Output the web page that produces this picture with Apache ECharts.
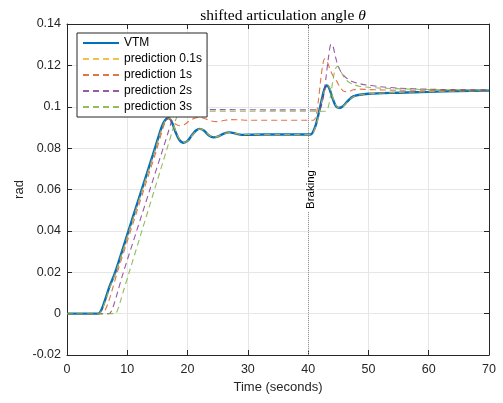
<!DOCTYPE html>
<html>
<head>
<meta charset="utf-8">
<script src="https://cdn.jsdelivr.net/npm/echarts@6/dist/echarts.min.js"></script>
<style>
  html, body { margin: 0; padding: 0; background: #fff; }
  #chart { width: 503px; height: 403px; }
</style>
</head>
<body>
<div id="chart"></div>
<script>
// Articulation angle (rad) over time (s): measured VTM response and predictions
const seriesNames = ['VTM', 'prediction 0.1s', 'prediction 1s', 'prediction 2s', 'prediction 3s'];
const xTicks = [0, 10, 20, 30, 40, 50, 60, 70];
const yTicks = [-0.02, 0, 0.02, 0.04, 0.06, 0.08, 0.1, 0.12, 0.14];
const brakingTime = 40;

const vtm = [
  [0, 0], [5.2, 0], [5.6, 0.0012], [6.0, 0.004], [6.5, 0.0082], [7, 0.0127], [8, 0.02],
  [10.2, 0.04], [12.4, 0.06], [14.6, 0.08], [15.5, 0.0885], [16.0, 0.0922], [16.5, 0.0942],
  [16.9, 0.0945], [17.4, 0.0925], [18.0, 0.0878], [18.6, 0.0842], [19.3, 0.0826], [20.0, 0.0835],
  [20.7, 0.0862], [21.4, 0.0885], [22.0, 0.0893], [22.7, 0.0885], [23.5, 0.0862], [24.3, 0.0852],
  [25.1, 0.0857], [26.0, 0.087], [27.0, 0.0876], [28.0, 0.087], [29.0, 0.0864], [30.5, 0.0865],
  [35, 0.0866], [40.4, 0.0866], [40.8, 0.0878], [41.3, 0.0915], [41.8, 0.0975], [42.3, 0.104],
  [42.7, 0.1085], [43.1, 0.1103], [43.5, 0.109], [44.0, 0.1045], [44.5, 0.1008], [45.0, 0.0995],
  [45.5, 0.0997], [46.1, 0.1012], [46.8, 0.1035], [47.5, 0.105], [48.3, 0.1057], [50, 0.1063],
  [55, 0.1068], [60, 0.1072], [65, 0.1076], [70, 0.1078]
];

const pred01 = [
  [0, 0], [5.3, 0], [5.7, 0.0012], [6.1, 0.004], [6.6, 0.0082], [7.1, 0.0127], [8.1, 0.02],
  [10.3, 0.04], [12.5, 0.06], [14.7, 0.08], [15.6, 0.0885], [16.1, 0.0922], [16.6, 0.0942],
  [17.0, 0.0944], [17.5, 0.0924], [18.1, 0.0878], [18.7, 0.0843], [19.4, 0.0827], [20.1, 0.0836],
  [20.8, 0.0863], [21.5, 0.0885], [22.1, 0.0893], [22.8, 0.0884], [23.6, 0.0862], [24.4, 0.0853],
  [25.2, 0.0858], [26.1, 0.087], [27.1, 0.0875], [28.1, 0.087], [29.1, 0.0865], [30.6, 0.0866],
  [35, 0.0866], [40.5, 0.0866], [40.9, 0.0879], [41.4, 0.0917], [41.9, 0.0978], [42.4, 0.1043],
  [42.8, 0.1087], [43.2, 0.1104], [43.6, 0.1089], [44.1, 0.1043], [44.6, 0.1007], [45.1, 0.0995],
  [45.6, 0.0998], [46.2, 0.1013], [46.9, 0.1036], [47.6, 0.105], [48.4, 0.1057], [50, 0.1063],
  [55, 0.1069], [60, 0.1073], [65, 0.1076], [70, 0.1078]
];

const pred1 = [
  [0, 0], [5.9, 0], [6.3, 0.0015], [6.8, 0.005], [7.3, 0.0095], [8.3, 0.0195], [10.5, 0.0395],
  [12.7, 0.0595], [14.9, 0.0795], [15.8, 0.0885], [16.3, 0.0925], [16.8, 0.0942], [17.3, 0.0935],
  [17.9, 0.0918], [18.7, 0.0908], [19.5, 0.0914], [20.3, 0.0932], [21.2, 0.0945], [22.0, 0.0948],
  [22.9, 0.0942], [23.8, 0.0932], [24.8, 0.0928], [25.8, 0.0932], [27, 0.0938], [28.5, 0.0937],
  [30, 0.0935], [35, 0.0935], [40.9, 0.0935], [41.3, 0.0955], [41.7, 0.103], [42.1, 0.1135],
  [42.5, 0.1215], [42.8, 0.1232], [43.2, 0.1215], [43.7, 0.1175], [44.2, 0.1145], [44.7, 0.1125],
  [45.3, 0.1095], [45.9, 0.1075], [46.6, 0.1073], [47.5, 0.1082], [48.5, 0.1085], [50, 0.1083],
  [55, 0.108], [60, 0.108], [70, 0.1081]
];

const pred2 = [
  [0, 0], [7.0, 0], [7.4, 0.0015], [7.9, 0.0055], [8.4, 0.0105], [9.3, 0.0195], [11.5, 0.0395],
  [13.7, 0.0595], [15.9, 0.0795], [16.8, 0.0878], [17.3, 0.0925], [17.8, 0.0965], [18.2, 0.0982],
  [18.8, 0.0986], [25, 0.0986], [35, 0.0985], [41.8, 0.0985], [42.2, 0.1005], [42.6, 0.106],
  [43.0, 0.115], [43.4, 0.1245], [43.8, 0.1302], [44.1, 0.1295], [44.5, 0.1245], [45.0, 0.1195],
  [45.6, 0.1162], [46.4, 0.1138], [47.3, 0.1122], [48.5, 0.1112], [49.7, 0.1105], [52, 0.1097],
  [55, 0.109], [60, 0.1085], [65, 0.1082], [70, 0.108]
];

const pred3 = [
  [0, 0], [8.0, 0], [8.4, 0.0018], [8.9, 0.0063], [9.4, 0.0113], [10.3, 0.0198], [12.4, 0.0398],
  [14.5, 0.0598], [16.6, 0.0798], [17.5, 0.0885], [18.0, 0.0935], [18.5, 0.0965], [19.0, 0.0976],
  [19.8, 0.0978], [30, 0.0978], [42.9, 0.0978], [43.3, 0.0995], [43.7, 0.105], [44.1, 0.1125],
  [44.5, 0.1182], [44.9, 0.1195], [45.3, 0.1178], [45.9, 0.1145], [46.6, 0.1122], [47.5, 0.1108],
  [48.5, 0.1099], [50, 0.1094], [52, 0.109], [56, 0.1086], [60, 0.1083], [70, 0.108]
];

const colors = ['#0072BD', '#EDB120', '#D95319', '#7E2F8E', '#77AC30'];
const axisColor = '#262626';
const sans = '"Liberation Sans", Arial, Helvetica, sans-serif';
const serif = '"Liberation Serif", "DejaVu Serif", serif';

const xMin = xTicks[0], xMax = xTicks[xTicks.length - 1];
const yMin = yTicks[0], yMax = yTicks[yTicks.length - 1];
const fmt = v => String(parseFloat(v.toFixed(2)));

// Top and right edges of the axes box, with inward ticks
function boxAxis(isX, position) {
  return {
    type: 'value', position: position, gridIndex: 0,
    min: isX ? xMin : yMin, max: isX ? xMax : yMax, interval: isX ? 10 : 0.02,
    axisLine: { show: true, onZero: false, lineStyle: { color: axisColor, width: 1 } },
    axisTick: { show: true, inside: true, length: 5, lineStyle: { color: axisColor } },
    axisLabel: { show: false },
    splitLine: { show: false }
  };
}

function dashed(name, data, color) {
  return {
    name: name, type: 'line', data: data, symbol: 'none', smooth: 0.3,
    lineStyle: { color: color, width: 1.1, type: [6, 4], opacity: 0.8 },
    itemStyle: { color: color }, z: 3
  };
}

const chart = echarts.init(document.getElementById('chart'), null, { renderer: 'canvas' });
chart.setOption({
  animation: false,
  backgroundColor: '#fff',
  title: {
    text: '{a|shifted articulation angle }{b|θ}',
    left: 278, top: 3, textAlign: 'center',
    textStyle: {
      fontWeight: 'normal',
      rich: {
        a: { fontFamily: serif, fontSize: 15.5, fontWeight: 'normal', color: '#000' },
        b: { fontFamily: serif, fontSize: 15.5, fontWeight: 'normal', fontStyle: 'italic', color: '#000' }
      }
    }
  },
  legend: {
    left: 77, top: 33, orient: 'vertical',
    data: seriesNames,
    itemWidth: 36, itemHeight: 14, itemGap: 2,
    padding: [3, 5, 3, 5],
    backgroundColor: '#fff', borderColor: axisColor, borderWidth: 1,
    itemStyle: { opacity: 0 },
    textStyle: { fontFamily: sans, fontSize: 12, color: '#000', lineHeight: 14 }
  },
  grid: { left: 67, right: 14, top: 24, bottom: 48, containLabel: false },
  xAxis: [
    {
      type: 'value', min: xMin, max: xMax, interval: 10, position: 'bottom',
      name: 'Time (seconds)', nameLocation: 'middle', nameGap: 26,
      nameTextStyle: { fontFamily: sans, fontSize: 13, color: axisColor },
      axisLine: { show: true, onZero: false, lineStyle: { color: axisColor, width: 1 } },
      axisTick: { show: true, inside: true, length: 5, lineStyle: { color: axisColor } },
      axisLabel: { fontFamily: sans, fontSize: 12.5, color: axisColor, margin: 8, formatter: fmt },
      splitLine: { show: true, lineStyle: { color: '#e6e6e6', width: 1 } }
    },
    boxAxis(true, 'top')
  ],
  yAxis: [
    {
      type: 'value', min: yMin, max: yMax, interval: 0.02, position: 'left',
      name: 'rad', nameLocation: 'middle', nameGap: 41, nameRotate: 90, nameMoveOverlap: false,
      nameTextStyle: { fontFamily: sans, fontSize: 13, color: axisColor },
      axisLine: { show: true, onZero: false, lineStyle: { color: axisColor, width: 1 } },
      axisTick: { show: true, inside: true, length: 5, lineStyle: { color: axisColor } },
      axisLabel: { fontFamily: sans, fontSize: 12.5, color: axisColor, margin: 6, formatter: fmt },
      splitLine: { show: true, lineStyle: { color: '#e6e6e6', width: 1 } }
    },
    boxAxis(false, 'right')
  ],
  series: [
    {
      name: seriesNames[0], type: 'line', data: vtm, symbol: 'none', smooth: 0.3,
      lineStyle: { color: colors[0], width: 2.4 }, itemStyle: { color: colors[0] }, z: 2,
      markLine: {
        silent: true, symbol: 'none',
        data: [{ xAxis: brakingTime }],
        lineStyle: { color: '#9a9a9a', type: 'dotted', width: 1 },
        label: {
          show: true, formatter: 'Braking', position: 'middle', distance: -9,
          fontFamily: sans, fontSize: 11.5, color: '#000',
          backgroundColor: '#fff', padding: [0, 2]
        }
      }
    },
    dashed(seriesNames[1], pred01, colors[1]),
    dashed(seriesNames[2], pred1, colors[2]),
    dashed(seriesNames[3], pred2, colors[3]),
    dashed(seriesNames[4], pred3, colors[4])
  ]
});
</script>
</body>
</html>
